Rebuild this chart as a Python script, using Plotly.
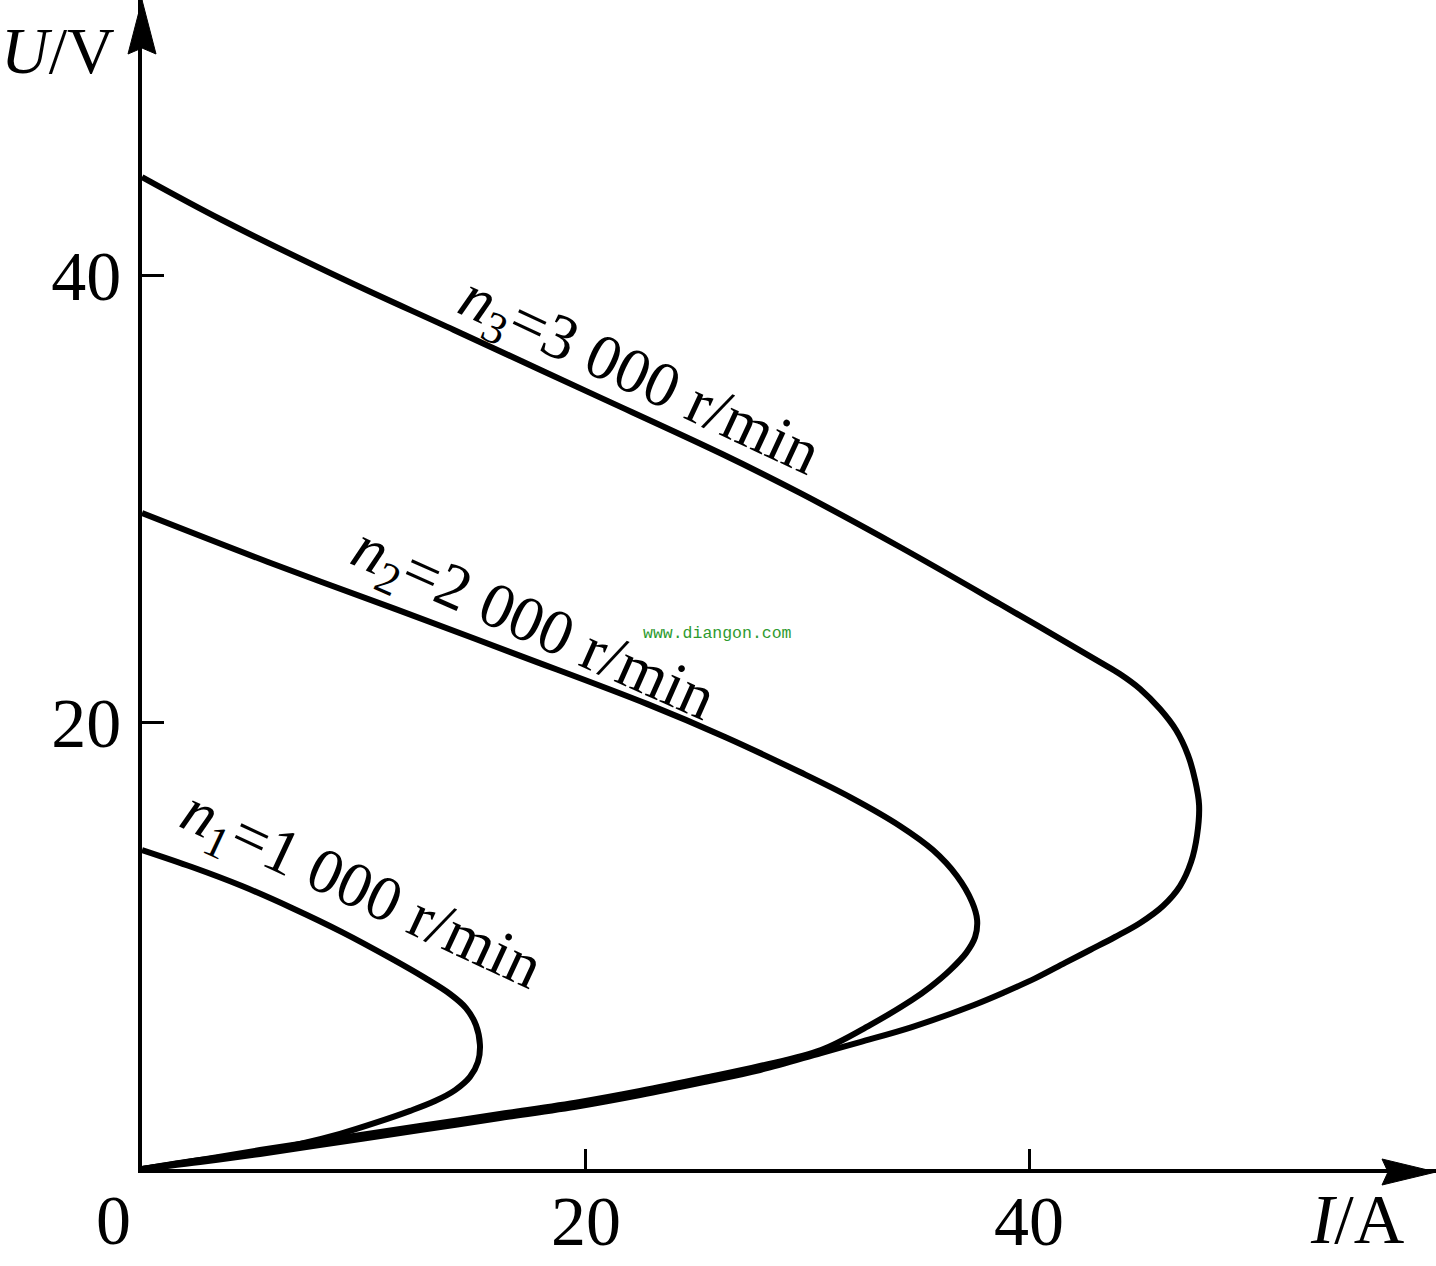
import plotly.graph_objects as go

# ---------------- data ----------------
n1_I = [0, 2.25, 4.51, 6.76, 9.02, 11.27, 12.76, 13.89, 14.61, 15.06, 15.24, 15.15, 14.79, 14.12,
        13.21, 12.09, 10.51, 8.93, 7.13, 5.32, 2.62, 0]
n1_U = [14.27, 13.51, 12.66, 11.68, 10.60, 9.40, 8.55, 7.83, 7.20, 6.44, 5.55, 4.79, 4.12, 3.53,
        3.04, 2.60, 2.06, 1.57, 1.12, 0.76, 0.40, 0]

n2_I = [0, 5.68, 11.41, 17.09, 22.77, 26.29, 29.67, 31.93, 34.18, 35.67, 36.75, 37.43, 37.66, 37.57,
        37.16, 36.44, 35.54, 34.72, 32.83, 30.62, 27.87, 25.34, 22.46, 19.75, 16.14, 12.54, 8.93,
        5.32, 2.62, 0]
n2_U = [29.35, 27.16, 25.06, 22.95, 20.81, 19.33, 17.76, 16.64, 15.35, 14.27, 13.11, 11.95, 11.14, 10.38,
        9.66, 8.90, 8.14, 7.56, 6.44, 5.32, 4.61, 4.07, 3.49, 3.00, 2.46, 1.92, 1.39,
        0.85, 0.40, 0]

n3_I = [0, 3.61, 9.06, 14.07, 20.11, 26.16, 29.67, 34.18, 38.69, 43.20, 44.10, 45.01, 45.91, 46.63,
        47.17, 47.49, 47.67, 47.58, 47.31, 46.81, 46.04, 45.01, 43.88, 42.75, 41.62, 40.32, 38.92,
        37.52, 34.72, 32.38, 30.62, 27.87, 25.34, 22.46, 19.75, 16.14, 12.54, 8.93, 5.32, 2.62, 0]
n3_U = [44.38, 42.46, 39.82, 37.54, 34.77, 31.99, 30.25, 27.83, 25.28, 22.68, 22.15, 21.48, 20.58, 19.64,
        18.52, 17.40, 16.29, 14.94, 13.74, 12.66, 11.77, 11.01, 10.38, 9.80, 9.22, 8.55, 7.92,
        7.34, 6.35, 5.68, 5.19, 4.43, 3.89, 3.31, 2.82, 2.28, 1.74, 1.21, 0.67, 0.31, 0]

x_ticks = [20, 40]
y_ticks = [20, 40]
curve_labels = ["<i>n</i><sub>1</sub>=1 000 r/min",
                "<i>n</i><sub>2</sub>=2 000 r/min",
                "<i>n</i><sub>3</sub>=3 000 r/min"]

# ---------------- layout geometry ----------------
W, H = 1436, 1266
L, B = 142, 97
PW, PH = W - L, H - B           # plot area in pixels
XMAX = PW / 22.175
YMAX = PH / 22.35

def xp(px):   # pixel -> paper x
    return (px - L) / PW

def yp(py):   # pixel -> paper y
    return (PH - py) / PH

SERIF = "Liberation Serif, Times New Roman, serif"

fig = go.Figure()
for xs, ys in [(n1_I, n1_U), (n2_I, n2_U), (n3_I, n3_U)]:
    fig.add_trace(go.Scatter(x=xs, y=ys, mode="lines",
                             line=dict(color="black", width=6, shape="spline", smoothing=1.0),
                             cliponaxis=False, hoverinfo="skip"))

fig.update_layout(
    width=W, height=H,
    margin=dict(l=L, r=0, t=0, b=B),
    paper_bgcolor="white", plot_bgcolor="white",
    showlegend=False,
    xaxis=dict(range=[0, XMAX], showgrid=False, zeroline=False,
               showline=True, linecolor="black", linewidth=3.5,
               ticks="inside", ticklen=20, tickwidth=3, tickcolor="black",
               tickvals=x_ticks, showticklabels=False),
    yaxis=dict(range=[0, YMAX], showgrid=False, zeroline=False,
               showline=True, linecolor="black", linewidth=3.5,
               ticks="inside", ticklen=22, tickwidth=3, tickcolor="black",
               tickvals=y_ticks, ticktext=[str(v) for v in y_ticks],
               tickfont=dict(family=SERIF, size=70, color="black"),
               ticklabelstandoff=3),
)

# x tick labels placed under their ticks (data x, fixed pixel height)
for v in x_ticks:
    fig.add_annotation(text=str(v), xref="x", yref="paper", x=v, y=yp(1222),
                       showarrow=False, xanchor="center", yanchor="middle",
                       font=dict(family=SERIF, size=70, color="black"))

# arrowheads
fig.add_shape(type="path", xref="paper", yref="paper",
              path=f"M {xp(142)} {yp(0)} L {xp(128)} {yp(54)} L {xp(142)} {yp(48)} L {xp(156)} {yp(54)} Z",
              fillcolor="black", line=dict(color="black", width=1))
fig.add_shape(type="path", xref="paper", yref="paper",
              path=f"M {xp(1436)} {yp(1172)} L {xp(1382)} {yp(1159)} L {xp(1388)} {yp(1172)} L {xp(1382)} {yp(1185)} Z",
              fillcolor="black", line=dict(color="black", width=1))

# axis titles and origin label
def ann(text, px, py, size=70, angle=0, color="black", family=SERIF):
    fig.add_annotation(text=text, xref="paper", yref="paper", x=xp(px), y=yp(py),
                       showarrow=False, textangle=angle, xanchor="center", yanchor="middle",
                       font=dict(family=family, size=size, color=color))

ann("<i>U</i>/V", 58, 51, size=66)
ann("<i>I</i>/A", 1357, 1219)
ann("0", 113, 1220)

# curve labels
ann(curve_labels[0], 360, 892, size=64, angle=25)
ann(curve_labels[1], 532, 626, size=64, angle=24)
ann(curve_labels[2], 638, 378, size=64, angle=25)

# watermark
ann("www.diangon.com", 717, 633, size=16.5, color="#2e9a2e",
    family="Liberation Mono, DejaVu Sans Mono, monospace")

fig.write_html("out.html")
